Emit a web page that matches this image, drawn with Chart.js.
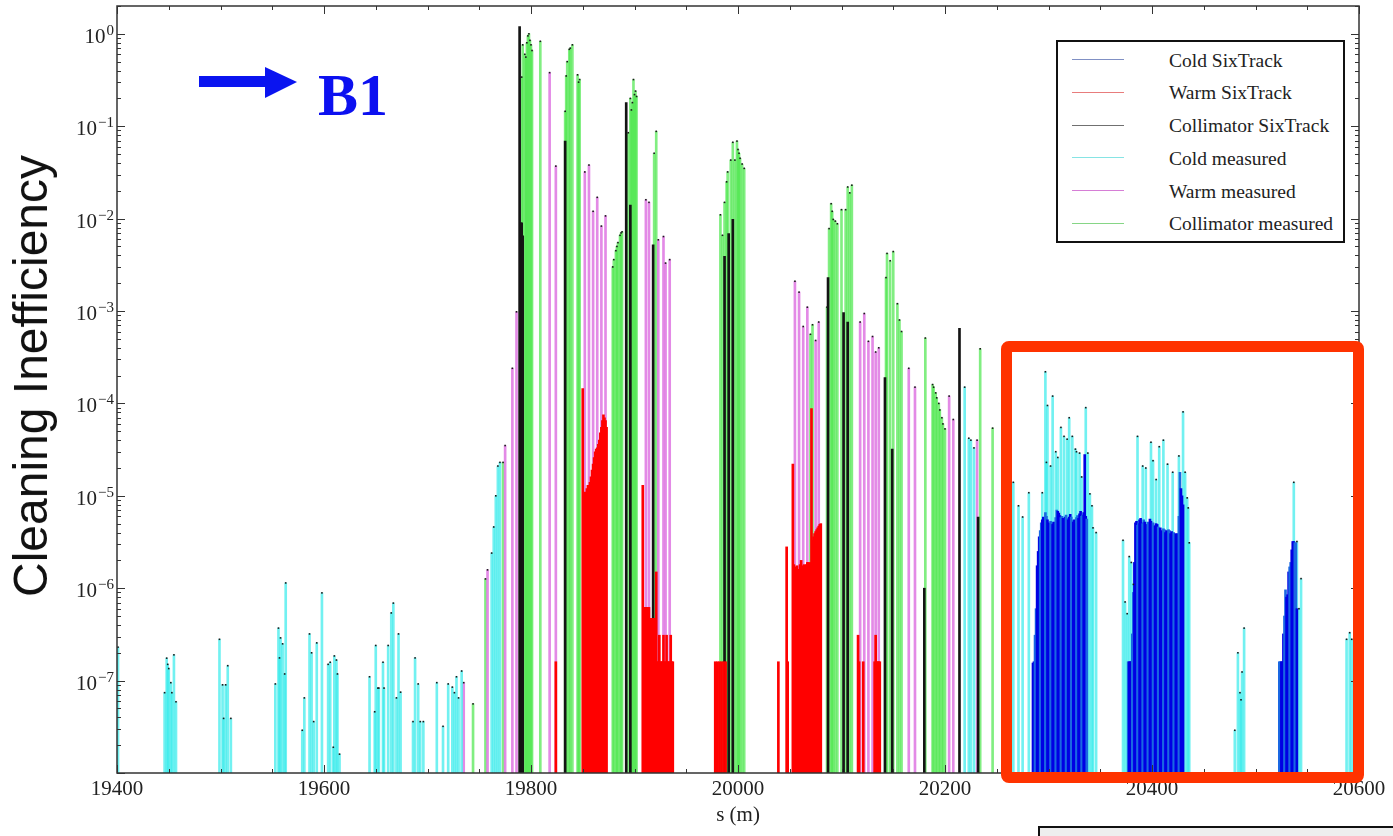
<!DOCTYPE html>
<html>
<head>
<meta charset="utf-8">
<title>Loss map B1</title>
<script src="https://cdn.jsdelivr.net/npm/chart.js@4.4.1/dist/chart.umd.min.js"></script>
<style>
  html, body { margin: 0; padding: 0; background: #fff; }
  #wrap { position: relative; width: 1393px; height: 836px; overflow: hidden; }
  #wrap canvas { position: absolute; left: 0; top: 0; }
  #yTitle {
    position: absolute; left: 31px; top: 376px;
    transform: translate(-50%, -50%) rotate(-90deg);
    font: 48px "Liberation Sans", Arial, sans-serif; line-height: 1;
    white-space: nowrap; color: #111;
  }
  #xTitle {
    position: absolute; left: 738px; top: 804px; transform: translateX(-50%);
    font: 21px "Liberation Serif", "Times New Roman", serif; line-height: 1; color: #222;
  }
  #arrow { position: absolute; left: 195px; top: 62px; }
  #beam {
    position: absolute; left: 318px; top: 65px;
    font: bold 60px "Liberation Serif", "Times New Roman", serif; line-height: 1;
    color: #0c10f0;
  }
  #legend {
    position: absolute; left: 1056px; top: 40px; width: 289px; height: 203px;
    box-sizing: border-box; border: 2px solid #111; background: #fff; padding-top: 7.5px;
    overflow: hidden;
  }
  #legend .item {
    position: relative; height: 32.8px; line-height: 32.8px; padding-left: 111px;
    font: 19.5px "Liberation Serif", "Times New Roman", serif; color: #222; white-space: nowrap;
  }
  #legend .swatch { position: absolute; left: 14px; top: 9.5px; width: 52px; height: 1px; }
  #zoomBox {
    position: absolute; left: 1001px; top: 341px; width: 363px; height: 442px;
    box-sizing: border-box; border: 11px solid #ff3300; border-radius: 8px;
  }
  #noteBox {
    position: absolute; left: 1038px; top: 826px; width: 380px; height: 30px;
    border-top: 2px solid #111; border-left: 2px solid #111; background: #eeeeee;
  }
</style>
</head>
<body>
<div id="wrap">
  <canvas id="lossChart" width="1393" height="836"></canvas>
  <div id="yTitle">Cleaning Inefficiency</div>
  <div id="xTitle">s (m)</div>
  <svg id="arrow" width="110" height="42">
    <rect x="4" y="14" width="68" height="11" fill="#0a14f0"></rect>
    <polygon points="70,5 102,20 70,36" fill="#0a14f0"></polygon>
  </svg>
  <div id="beam">B1</div>
  <div id="legend"></div>
  <div id="zoomBox"></div>
  <div id="noteBox"></div>
</div>
<script>
// axis ticks
const xTickValues = [19400, 19600, 19800, 20000, 20200, 20400, 20600];
const xTickLabels = ['19400', '19600', '19800', '20000', '20200', '20400', '20600'];
const yTickExponents = [0, -1, -2, -3, -4, -5, -6, -7];

// Cold SixTrack
const coldSimS = [
  20285, 20286, 20287, 20288, 20289, 20290, 20291, 20292, 20293, 20294,
  20295, 20296, 20297, 20298, 20299, 20300, 20301, 20302, 20303, 20304,
  20305, 20306, 20307, 20308, 20309, 20310, 20311, 20312, 20313, 20314,
  20315, 20316, 20317, 20318, 20319, 20320, 20321, 20322, 20323, 20324,
  20325, 20326, 20327, 20328, 20329, 20330, 20331, 20332, 20333, 20334,
  20335, 20336, 20337,
  20377, 20378, 20379, 20380, 20381, 20382, 20383, 20384, 20385, 20386,
  20387, 20388, 20389, 20390, 20391, 20392, 20393, 20394, 20395, 20396,
  20397, 20398, 20399, 20400, 20401, 20402, 20403, 20404, 20405, 20406,
  20407, 20408, 20409, 20410, 20411, 20412, 20413, 20414, 20415, 20416,
  20417, 20418, 20419, 20420, 20421, 20422, 20423, 20424, 20425, 20426,
  20427, 20428, 20429, 20430,
  20523, 20524, 20525, 20526, 20527, 20528, 20529, 20530, 20531, 20532,
  20533, 20534, 20535, 20536, 20537, 20538, 20539, 20540
];
const coldSimV = [
  1.55e-7, 1.6e-7, 3.1e-7, 6e-7, 1.75e-6, 2.5e-6, 3.6e-6, 4.2e-6, 5.1e-6, 5.5e-6,
  5.9e-6, 5.7e-6, 6.6e-6, 6.0e-6, 5.5e-6, 5.1e-6, 5.0e-6, 5.3e-6, 5.1e-6, 4.9e-6,
  5.2e-6, 5.0e-6, 5.8e-6, 7.0e-6, 6.8e-6, 6.5e-6, 6.1e-6, 5.8e-6, 6.0e-6, 5.7e-6,
  5.6e-6, 5.9e-6, 6.2e-6, 5.7e-6, 5.5e-6, 5.9e-6, 6.3e-6, 5.9e-6, 5.4e-6, 5.2e-6,
  5.5e-6, 5.0e-6, 5.8e-6, 6.1e-6, 5.7e-6, 6.4e-6, 6.8e-6, 6.0e-6, 6.2e-6, 6.6e-6,
  2.8e-5, 6.0e-6, 5.6e-6,
  1.6e-7, 1.6e-7, 1.6e-7, 1.6e-7, 3.2e-7, 9e-7, 1.9e-6, 5.1e-6, 5.3e-6, 4.8e-6,
  5.0e-6, 5.5e-6, 5.7e-6, 5.1e-6, 5.0e-6, 5.5e-6, 5.2e-6, 4.5e-6, 4.9e-6, 5.2e-6,
  5.0e-6, 5.6e-6, 5.3e-6, 4.9e-6, 5.1e-6, 4.8e-6, 4.7e-6, 5.0e-6, 4.9e-6, 4.6e-6,
  4.3e-6, 4.5e-6, 4.2e-6, 4.1e-6, 4.4e-6, 4.3e-6, 4.0e-6, 4.2e-6, 4.1e-6, 4.3e-6,
  4.2e-6, 3.9e-6, 4.1e-6, 3.8e-6, 4.0e-6, 3.7e-6, 3.9e-6, 3.7e-6, 3.9e-6, 6.0e-6,
  1.8e-5, 1.2e-5, 1.0e-5, 8.0e-6,
  1.6e-7, 1.6e-7, 1.6e-7, 1.6e-7, 3.2e-7, 5e-7, 9.6e-7, 8e-7, 8.5e-7, 1.5e-6,
  1.7e-6, 1.9e-6, 2.6e-6, 3.2e-6, 3.2e-6, 3.1e-6, 3.1e-6, 6e-7
];

// Warm SixTrack
const warmSimS = [
  19824,
  19850, 19851, 19852, 19853, 19854, 19855, 19856, 19857, 19858, 19859, 19860, 19861,
  19862, 19863, 19864, 19865, 19866, 19867, 19868, 19869, 19870, 19871, 19872, 19873,
  19908, 19909, 19910, 19911, 19912, 19913, 19914, 19915, 19916, 19917, 19918, 19919, 19920,
  19921, 19922, 19923, 19924, 19925, 19926, 19927, 19928, 19929, 19930, 19931, 19932,
  19933, 19934, 19935, 19936, 19937,
  19978, 19980, 19982, 19984, 19986, 19988,
  20039, 20047, 20048, 20053, 20054, 20055, 20056, 20057, 20058, 20059, 20060, 20061,
  20062, 20063, 20064, 20065, 20066, 20067, 20068, 20069, 20070, 20071, 20072, 20073,
  20074, 20075, 20076, 20077, 20078, 20079, 20080,
  20116, 20117, 20121, 20132, 20133, 20134, 20135, 20136, 20137
];
const warmSimV = [
  1.6e-7,
  1.45e-4, 1.0e-5, 1.1e-5, 8e-6, 1.2e-5, 1.3e-5, 1.1e-5, 1.4e-5, 1.6e-5, 1.9e-5, 2.2e-5, 2.6e-5,
  3.0e-5, 3.2e-5, 3.3e-5, 3.6e-5, 4.0e-5, 4.8e-5, 5.5e-5, 6.5e-5, 7.5e-5, 7.0e-5, 6.5e-5, 5.5e-5,
  1.3e-5, 6.2e-7, 6.2e-7, 6.2e-7, 6.2e-7, 6.2e-7, 6.2e-7, 4.7e-7, 4.7e-7, 4.7e-7, 4.7e-7, 4.7e-7, 4.7e-7,
  1.5e-6, 1.6e-7, 1.6e-7, 3.1e-7, 1.6e-7, 1.6e-7, 1.6e-7, 3.1e-7, 1.6e-7, 1.6e-7, 3.1e-7, 1.6e-7,
  1.6e-7, 1.6e-7, 3.1e-7, 1.6e-7, 1.6e-7,
  1.6e-7, 1.6e-7, 1.6e-7, 1.6e-7, 1.6e-7, 1.6e-7,
  1.6e-7, 2.8e-6, 1.6e-7, 2.2e-5, 1.8e-6, 1.7e-6, 1.2e-6, 1.75e-6, 1.6e-6, 1.25e-6, 1.8e-6, 2.0e-6,
  1.7e-6, 1.75e-6, 1.8e-6, 1.75e-6, 1.8e-6, 1.9e-6, 1.9e-6, 1.85e-6, 1.9e-6, 8.8e-5, 3.3e-6, 3.6e-6,
  3.9e-6, 4.1e-6, 4.3e-6, 4.5e-6, 4.7e-6, 4.9e-6, 5.0e-6,
  3.1e-7, 1.6e-7, 1.6e-7, 1.6e-7, 3.1e-7, 1.6e-7, 1.6e-7, 1.6e-7, 1.6e-7
];

// Collimator SixTrack
const collSimS = [19789, 19790, 19791, 19792, 19833, 19892, 19896, 19918, 19987, 19991,
  19995, 20087, 20102, 20106, 20142, 20149, 20180, 20214, 20232];
const collSimV = [1.2, 9e-3, 9e-3, 6.5e-3, 0.069, 0.18, 1.4e-2, 5.2e-3, 3.9e-3, 6.9e-3,
  9.8e-3, 2.3e-3, 9.6e-4, 7.6e-4, 1.9e-4, 3.2e-5, 1.0e-6, 6.5e-4, 5.9e-6];

// Cold measured
const coldMeasS = [
  19401,
  19446, 19448, 19449, 19450, 19452, 19453, 19455, 19457,
  19499, 19502, 19503, 19505, 19507, 19510,
  19553, 19556, 19557, 19558, 19560, 19562, 19563,
  19579, 19581, 19586, 19588, 19590, 19593, 19598, 19604, 19606, 19609, 19610, 19612, 19613, 19615,
  19644, 19649, 19650, 19652, 19653, 19657, 19658, 19662, 19665, 19667, 19670, 19672, 19674,
  19686, 19688, 19691, 19693, 19696,
  19709, 19715, 19720, 19724, 19726, 19728, 19730, 19733,
  19762, 19764, 19766, 19768, 19770,
  20219, 20223, 20225, 20228,
  20266, 20271, 20275, 20281,
  20294, 20297, 20298, 20299, 20302, 20304, 20307, 20309, 20312, 20315, 20318, 20320,
  20323, 20326, 20327, 20330, 20332, 20336, 20338, 20340, 20342, 20343, 20346,
  20372, 20374, 20376, 20378, 20380, 20382, 20386, 20391, 20394, 20399, 20401, 20404,
  20407, 20411, 20415, 20420, 20426, 20430, 20432, 20434, 20435, 20436,
  20480, 20483, 20485, 20486, 20487, 20489,
  20537, 20540, 20542, 20544,
  20588, 20591, 20593
];
const coldMeasV = [
  2.3e-7,
  7.4e-8, 1.75e-7, 1.5e-7, 1.35e-7, 9.5e-8, 7.4e-8, 1.9e-7, 5.9e-8,
  2.8e-7, 9e-8, 3.9e-8, 9e-8, 1.45e-7, 3.9e-8,
  9.2e-8, 3.7e-7, 1.76e-7, 2.9e-7, 2.5e-7, 1.18e-7, 1.14e-6,
  2.9e-8, 6.5e-8, 3.2e-7, 2e-7, 3.6e-8, 2.56e-7, 8.9e-7, 1.5e-7, 1.58e-7, 1.9e-8, 1.85e-7, 1.67e-7, 1.18e-7, 1.6e-8,
  1.1e-7, 4.6e-8, 2.4e-7, 8.3e-8, 8.3e-8, 1.58e-7, 8.3e-8, 2.4e-7, 5.4e-7, 6.9e-7, 6.5e-8, 3.2e-7, 7.5e-8,
  3.6e-8, 1.76e-7, 9.2e-8, 3.6e-8, 3.6e-8,
  9.5e-8, 3.2e-8, 9.2e-8, 8.5e-8, 7.4e-8, 1.1e-7, 6.5e-8, 1.27e-7,
  2.4e-6, 4.6e-6, 1.0e-5, 2.1e-5, 2.3e-5,
  1.5e-4, 4.2e-5, 4.0e-5, 3.3e-5,
  1.4e-5, 7.8e-6, 5.9e-6, 1.08e-5,
  1.08e-5, 2.2e-4, 2.3e-5, 9.5e-5, 2.1e-5, 1.2e-4, 3.0e-5, 2.6e-5, 5.5e-5, 4.4e-5, 4.1e-5, 7.0e-5,
  4.4e-5, 3.2e-5, 3.0e-5, 2.9e-5, 1.6e-5, 9.0e-5, 2.9e-5, 1.05e-5, 7.8e-6, 4.5e-6, 4.0e-6,
  3.3e-6, 7.1e-7, 5.3e-7, 2.2e-6, 1.9e-6, 1.1e-6, 4.4e-5, 2.1e-5, 2.0e-5, 3.8e-5, 2.4e-5, 1.5e-5,
  3.4e-5, 4.0e-5, 2.2e-5, 1.8e-5, 2.7e-5, 8.1e-5, 1.8e-5, 9.5e-6, 7.4e-6, 3.1e-6,
  2.9e-8, 2.0e-7, 7.4e-8, 6.2e-8, 1.24e-7, 3.7e-7,
  1.4e-5, 3.2e-6, 6e-7, 1.27e-6,
  2.8e-7, 3.3e-7, 2.8e-7
];

// Warm measured
const warmMeasS = [19735, 19758, 19775, 19782, 19786, 19818, 19824, 19852, 19856, 19860,
  19864, 19868, 19872, 19911, 19914, 19923, 19928, 19930, 19934, 20055,
  20059, 20063, 20067, 20075, 20078, 20118, 20122, 20126, 20130, 20133,
  20136, 20165, 20171, 20204, 20208, 20231];
const warmMeasV = [9.5e-8, 1.58e-6, 3.5e-5, 2.4e-4, 9.8e-4, 0.38, 3.7e-2, 3.2e-2, 3.8e-2, 1.2e-2,
  1.7e-2, 8.3e-3, 1.07e-2, 1.6e-2, 1.5e-2, 5.9e-3, 6.4e-3, 3.3e-3, 3.6e-3, 2.1e-3,
  1.6e-3, 6.8e-4, 1.1e-3, 4.8e-4, 7.6e-4, 7.6e-4, 9.4e-4, 4.7e-4, 5.3e-4, 3.6e-4,
  4.0e-4, 2.4e-4, 1.5e-4, 1.2e-4, 6.7e-5, 4.0e-5];

// Collimator measured
const collMeasS = [
  19744, 19756, 19773,
  19791, 19792, 19794, 19795, 19796, 19797, 19798, 19799, 19800, 19801,
  19809,
  19833, 19834, 19835, 19837, 19838, 19840, 19845, 19846, 19847,
  19879, 19880, 19882, 19883, 19884, 19886, 19887, 19888,
  19894, 19896, 19897, 19898, 19899, 19900, 19901, 19902,
  19919, 19921,
  19983, 19985, 19987, 19989, 19990, 19993, 19995, 19997, 19999, 20000, 20001, 20002, 20004, 20006,
  20070, 20072,
  20086, 20088, 20090, 20091, 20092, 20094, 20096,
  20100, 20104, 20106, 20108, 20110,
  20143, 20144, 20147, 20150, 20154, 20156, 20158,
  20181,
  20188, 20189, 20191, 20192, 20194, 20195, 20197, 20198, 20200,
  20234, 20246
];
const collMeasV = [
  5.6e-8, 1.26e-6, 2.3e-5,
  0.34, 0.76, 0.6, 0.56, 0.8, 0.95, 1.0, 0.85, 0.76, 0.66,
  0.83,
  0.145, 0.35, 0.5, 0.68, 0.7, 0.76, 0.36, 0.3, 0.32,
  3.0e-3, 3.6e-3, 4.5e-3, 5.0e-3, 5.5e-3, 6.6e-3, 7.0e-3, 7.2e-3,
  0.085, 0.2, 0.15, 0.18, 0.32, 0.22, 0.24, 0.21,
  5.1e-2, 0.088,
  1.1e-2, 6.6e-3, 1.5e-2, 2.5e-2, 3.2e-2, 4.3e-2, 6.7e-2, 4.3e-2, 6.9e-2, 5.6e-2, 5.1e-2, 4.5e-2, 3.9e-2, 3.5e-2,
  5.6e-4, 7.1e-4,
  1.1e-3, 7.8e-3, 1.45e-2, 1.2e-2, 9.8e-3, 9.4e-3, 8.8e-3,
  1.25e-2, 1.25e-2, 2.2e-2, 1.9e-2, 2.3e-2,
  2.3e-3, 4.2e-3, 3.5e-3, 4.4e-3, 1.2e-3, 8.0e-4, 6.0e-4,
  5.1e-4,
  1.6e-4, 1.5e-4, 1.3e-4, 1.15e-4, 1.0e-4, 8.5e-5, 7.0e-5, 6.0e-5, 5.3e-5,
  3.9e-4, 5.4e-5
];

function pairs(xs, ys) {
  return xs.map((x, i) => ({ x: x, y: ys[i] }));
}

// frame, inward ticks on all four sides and the tick labels
const paperAxes = {
  id: 'paperAxes',
  afterDatasetsDraw(chart) {
    const { ctx, chartArea: a, scales: { x, y } } = chart;
    ctx.save();
    ctx.strokeStyle = '#333';
    ctx.lineWidth = 1.5;
    ctx.strokeRect(a.left, a.top, a.right - a.left, a.bottom - a.top);

    ctx.lineWidth = 1;
    ctx.beginPath();
    for (let v = x.min; v <= x.max + 0.1; v += 50) {
      const px = Math.round(x.getPixelForValue(v)) + 0.5;
      const len = v % 200 === 0 ? 8 : 4;
      ctx.moveTo(px, a.bottom); ctx.lineTo(px, a.bottom - len);
      ctx.moveTo(px, a.top); ctx.lineTo(px, a.top + len);
    }
    for (let e = -8; e <= 0; e++) {
      for (let m = 1; m <= 9; m++) {
        const v = m * Math.pow(10, e);
        if (v > y.max) break;
        const py = Math.round(y.getPixelForValue(v)) + 0.5;
        const len = m === 1 ? 8 : 4;
        ctx.moveTo(a.left, py); ctx.lineTo(a.left + len, py);
        ctx.moveTo(a.right, py); ctx.lineTo(a.right - len, py);
      }
    }
    ctx.stroke();

    ctx.fillStyle = '#222';
    ctx.textBaseline = 'alphabetic';
    ctx.textAlign = 'center';
    ctx.font = '21px "Liberation Serif", serif';
    xTickValues.forEach((v, i) => ctx.fillText(xTickLabels[i], x.getPixelForValue(v), a.bottom + 22));

    ctx.textAlign = 'right';
    yTickExponents.forEach(e => {
      const py = y.getPixelForValue(Math.pow(10, e));
      const exp = e === 0 ? '0' : '\u2212' + (-e);
      ctx.font = '15px "Liberation Serif", serif';
      const ew = ctx.measureText(exp).width;
      ctx.fillText(exp, a.left - 3, py + 1);
      ctx.font = '21px "Liberation Serif", serif';
      ctx.fillText('10', a.left - 4 - ew, py + 9);
    });
    ctx.restore();
  }
};

// little black markers on top of the measured bars
const topDots = {
  id: 'topDots',
  afterDatasetsDraw(chart) {
    const ctx = chart.ctx;
    ctx.save();
    ctx.fillStyle = '#1a1a1a';
    chart.data.datasets.forEach((ds, i) => {
      if (!ds.topDots) return;
      chart.getDatasetMeta(i).data.forEach(bar => {
        ctx.fillRect(bar.x - 0.8, bar.y - 0.8, 1.6, 1.6);
      });
    });
    ctx.restore();
  }
};

const chart = new Chart(document.getElementById('lossChart'), {
  type: 'bar',
  data: {
    datasets: [
      {
        label: 'Cold SixTrack', data: pairs(coldSimS, coldSimV),
        backgroundColor: c => (c.dataIndex % 5 === 2 || c.dataIndex % 5 === 3 ? '#1a68e2' : '#0000e4'),
        legendColor: '#8090c4'
      },
      { label: 'Warm SixTrack', data: pairs(warmSimS, warmSimV), backgroundColor: '#ff0000', legendColor: '#e87c7c' },
      { label: 'Collimator SixTrack', data: pairs(collSimS, collSimV), backgroundColor: '#141414', legendColor: '#707070' },
      { label: 'Cold measured', data: pairs(coldMeasS, coldMeasV), backgroundColor: 'rgba(60,236,236,0.72)', legendColor: '#86e4e4', topDots: true },
      { label: 'Warm measured', data: pairs(warmMeasS, warmMeasV), backgroundColor: 'rgba(222,118,226,0.85)', legendColor: '#d67ed6', topDots: true },
      { label: 'Collimator measured', data: pairs(collMeasS, collMeasV), backgroundColor: 'rgba(80,232,80,0.72)', legendColor: '#86d686', topDots: true }
    ]
  },
  options: {
    responsive: false,
    animation: false,
    layout: { padding: { left: 117, right: 34, top: 6, bottom: 63 } },
    datasets: { bar: { barThickness: 2, grouped: false, borderWidth: 0 } },
    plugins: { legend: { display: false }, tooltip: { enabled: false } },
    scales: {
      x: { type: 'linear', display: false, min: 19400, max: 20600, offset: false, grid: { offset: false } },
      y: { type: 'logarithmic', display: false, min: 1e-8, max: 2 }
    }
  },
  plugins: [topDots, paperAxes]
});

// legend box, built from the datasets
const legendBox = document.getElementById('legend');
chart.data.datasets.forEach(ds => {
  const row = document.createElement('div');
  row.className = 'item';
  const swatch = document.createElement('span');
  swatch.className = 'swatch';
  swatch.style.background = ds.legendColor;
  row.appendChild(swatch);
  row.appendChild(document.createTextNode(ds.label));
  legendBox.appendChild(row);
});
</script>
</body>
</html>
